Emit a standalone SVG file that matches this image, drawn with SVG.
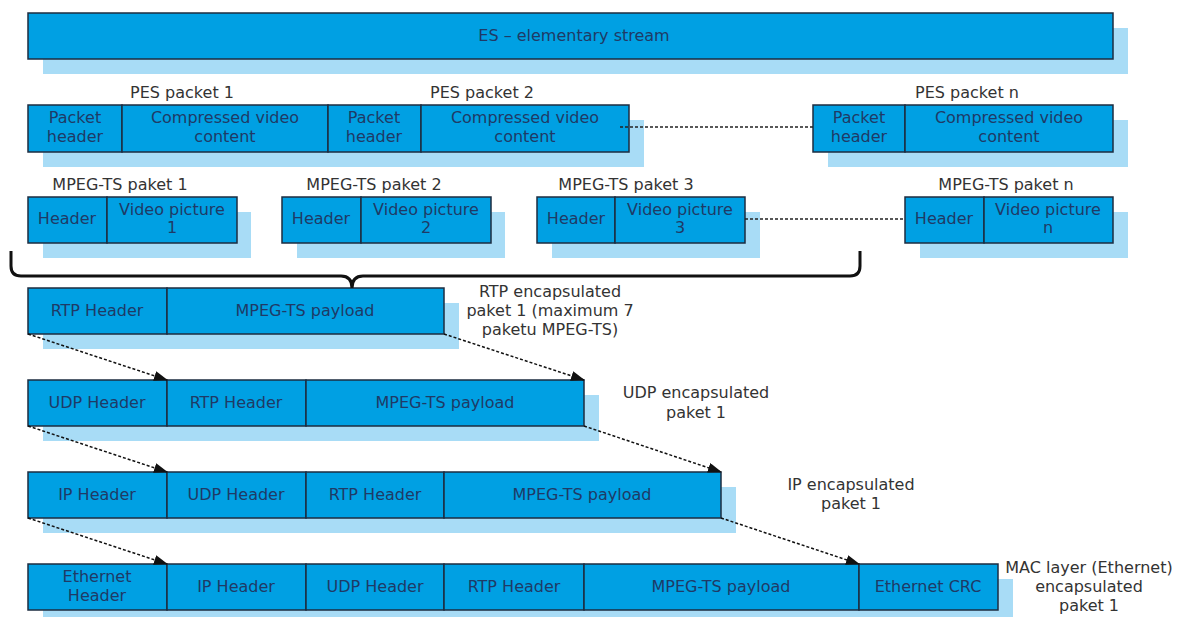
<svg xmlns="http://www.w3.org/2000/svg" width="1178" height="617" viewBox="0 0 1178 617">
<style>
.box{fill:#00A0E3;stroke:#1c2c40;stroke-width:1.5}
.sh{fill:#A8DCF6}
.t{font-family:"DejaVu Sans",Verdana,sans-serif;font-size:16px;fill:#1f3a66;text-anchor:middle}
.l{font-family:"DejaVu Sans",Verdana,sans-serif;font-size:16px;fill:#333;text-anchor:middle}
.dot{stroke:#222;stroke-width:1.5;stroke-dasharray:3 2;fill:none}
.arr{stroke:#111;stroke-width:1.5;stroke-dasharray:3 2;fill:none;marker-end:url(#ah)}
</style>
<defs>
<marker id="ah" markerWidth="14" markerHeight="10" refX="13" refY="5" orient="auto" markerUnits="userSpaceOnUse">
<path d="M0,0 L14,5 L0,10 Z" fill="#111"/>
</marker>
</defs>
<rect width="1178" height="617" fill="#fff"/>

<g id="es">
<rect class="sh" x="43" y="28" width="1085" height="46"/>
<rect class="box" x="28" y="13" width="1085" height="46"/>
<text class="t" x="574" y="41">ES – elementary stream</text>
</g>

<g id="pes12">
<rect class="sh" x="43" y="120" width="601" height="47"/>
<rect class="box" x="28" y="105" width="94" height="47"/>
<rect class="box" x="122" y="105" width="206" height="47"/>
<rect class="box" x="328" y="105" width="93" height="47"/>
<rect class="box" x="421" y="105" width="208" height="47"/>
<text class="t" x="75" y="123">Packet</text><text class="t" x="75" y="142">header</text>
<text class="t" x="225" y="123">Compressed video</text><text class="t" x="225" y="142">content</text>
<text class="t" x="374" y="123">Packet</text><text class="t" x="374" y="142">header</text>
<text class="t" x="525" y="123">Compressed video</text><text class="t" x="525" y="142">content</text>
<text class="l" x="182" y="98">PES packet 1</text>
<text class="l" x="482" y="98">PES packet 2</text>
</g>

<g id="pesn">
<rect class="sh" x="828" y="120" width="300" height="47"/>
<rect class="box" x="813" y="105" width="92" height="47"/>
<rect class="box" x="905" y="105" width="208" height="47"/>
<text class="t" x="859" y="123">Packet</text><text class="t" x="859" y="142">header</text>
<text class="t" x="1009" y="123">Compressed video</text><text class="t" x="1009" y="142">content</text>
<text class="l" x="967" y="98">PES packet n</text>
</g>

<g id="ts1">
<rect class="sh" x="43" y="212" width="208" height="46"/>
<rect class="box" x="28" y="197" width="79" height="46"/>
<rect class="box" x="107" y="197" width="130" height="46"/>
<text class="t" x="67" y="224">Header</text>
<text class="t" x="172" y="215">Video picture</text><text class="t" x="172" y="233">1</text>
<text class="l" x="120" y="190">MPEG-TS paket 1</text>
</g>
<g id="ts2">
<rect class="sh" x="297" y="212" width="208" height="46"/>
<rect class="box" x="282" y="197" width="79" height="46"/>
<rect class="box" x="361" y="197" width="130" height="46"/>
<text class="t" x="321" y="224">Header</text>
<text class="t" x="426" y="215">Video picture</text><text class="t" x="426" y="233">2</text>
<text class="l" x="374" y="190">MPEG-TS paket 2</text>
</g>
<g id="ts3">
<rect class="sh" x="552" y="212" width="208" height="46"/>
<rect class="box" x="537" y="197" width="78" height="46"/>
<rect class="box" x="615" y="197" width="130" height="46"/>
<text class="t" x="576" y="224">Header</text>
<text class="t" x="680" y="215">Video picture</text><text class="t" x="680" y="233">3</text>
<text class="l" x="626" y="190">MPEG-TS paket 3</text>
</g>
<g id="tsn">
<rect class="sh" x="920" y="212" width="208" height="46"/>
<rect class="box" x="905" y="197" width="79" height="46"/>
<rect class="box" x="984" y="197" width="129" height="46"/>
<text class="t" x="944" y="224">Header</text>
<text class="t" x="1048" y="215">Video picture</text><text class="t" x="1048" y="233">n</text>
<text class="l" x="1006" y="190">MPEG-TS paket n</text>
</g>

<g id="rtp">
<rect class="sh" x="43" y="303" width="416" height="46"/>
<rect class="box" x="28" y="288" width="139" height="46"/>
<rect class="box" x="167" y="288" width="277" height="46"/>
<text class="t" x="97" y="316">RTP Header</text>
<text class="t" x="305" y="316">MPEG-TS payload</text>
<text class="l" x="550" y="297">RTP encapsulated</text>
<text class="l" x="550" y="316">paket 1 (maximum 7</text>
<text class="l" x="550" y="335">paketu MPEG-TS)</text>
</g>

<g id="udp">
<rect class="sh" x="43" y="395" width="556" height="46"/>
<rect class="box" x="28" y="380" width="139" height="46"/>
<rect class="box" x="167" y="380" width="139" height="46"/>
<rect class="box" x="306" y="380" width="278" height="46"/>
<text class="t" x="97" y="408">UDP Header</text>
<text class="t" x="236" y="408">RTP Header</text>
<text class="t" x="445" y="408">MPEG-TS payload</text>
<text class="l" x="696" y="398">UDP encapsulated</text>
<text class="l" x="696" y="418">paket 1</text>
</g>

<g id="ip">
<rect class="sh" x="43" y="487" width="693" height="46"/>
<rect class="box" x="28" y="472" width="139" height="46"/>
<rect class="box" x="167" y="472" width="139" height="46"/>
<rect class="box" x="306" y="472" width="138" height="46"/>
<rect class="box" x="444" y="472" width="277" height="46"/>
<text class="t" x="97" y="500">IP Header</text>
<text class="t" x="236" y="500">UDP Header</text>
<text class="t" x="375" y="500">RTP Header</text>
<text class="t" x="582" y="500">MPEG-TS payload</text>
<text class="l" x="851" y="490">IP encapsulated</text>
<text class="l" x="851" y="509">paket 1</text>
</g>

<g id="eth">
<rect class="sh" x="43" y="579" width="970" height="46"/>
<rect class="box" x="28" y="564" width="139" height="46"/>
<rect class="box" x="167" y="564" width="139" height="46"/>
<rect class="box" x="306" y="564" width="138" height="46"/>
<rect class="box" x="444" y="564" width="140" height="46"/>
<rect class="box" x="584" y="564" width="275" height="46"/>
<rect class="box" x="859" y="564" width="139" height="46"/>
<text class="t" x="97" y="582">Ethernet</text><text class="t" x="97" y="601">Header</text>
<text class="t" x="236" y="592">IP Header</text>
<text class="t" x="375" y="592">UDP Header</text>
<text class="t" x="514" y="592">RTP Header</text>
<text class="t" x="721" y="592">MPEG-TS payload</text>
<text class="t" x="928" y="592">Ethernet CRC</text>
<text class="l" x="1089" y="573">MAC layer (Ethernet)</text>
<text class="l" x="1089" y="592">encapsulated</text>
<text class="l" x="1089" y="611">paket 1</text>
</g>

<g id="connectors">
<line class="dot" x1="620" y1="127" x2="813" y2="127"/>
<line class="dot" x1="745" y1="219" x2="905" y2="219"/>
<path d="M11,251 L11,266 Q11,276 21,276 L341,276 Q352,276 352,288 Q352,276 363,276 L850,276 Q860,276 860,266 L860,251" fill="none" stroke="#111" stroke-width="3"/>
<line class="arr" x1="28" y1="334" x2="167" y2="380"/>
<line class="arr" x1="444" y1="334" x2="584" y2="380"/>
<line class="arr" x1="28" y1="426" x2="167" y2="472"/>
<line class="arr" x1="584" y1="426" x2="721" y2="472"/>
<line class="arr" x1="28" y1="518" x2="167" y2="564"/>
<line class="arr" x1="721" y1="518" x2="859" y2="564"/>
</g>
</svg>
